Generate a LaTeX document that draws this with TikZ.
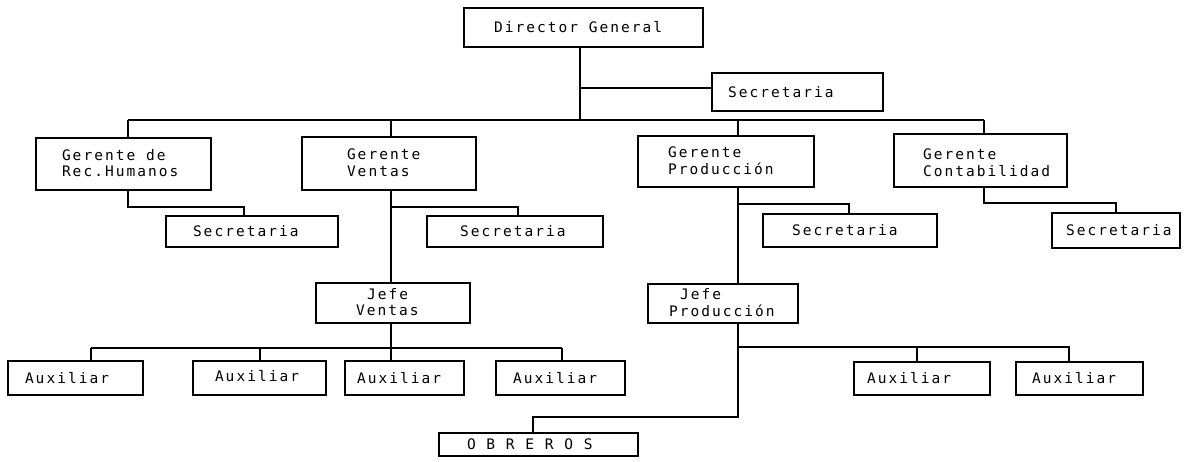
\documentclass[tikz,border=0pt]{standalone}
\usepackage{fontspec}
\newfontfamily\tfont[LetterSpace=14]{DejaVu Sans Mono}
\begin{document}
\begin{tikzpicture}[x=1pt,y=-1pt,
  box/.style={draw=black,line width=1.1pt,inner sep=0pt,outer sep=0pt,fill=none},
  txt/.style={inner sep=0pt,outer sep=0pt,anchor=west,align=left,font={\tfont\fontsize{14.5}{16.5}\selectfont}},
  conn/.style={draw=black,line width=1.2pt}]
\useasboundingbox[fill=white] (0,0) rectangle (1185,461);
% boxes
\node[box,minimum width=239pt,minimum height=39pt] (DG) at (583.5,27.5) {};
\node[box,minimum width=171pt,minimum height=38pt] (ST) at (797.5,92) {};
\node[box,minimum width=175pt,minimum height=52pt] (RH) at (123.5,164) {};
\node[box,minimum width=174pt,minimum height=53pt] (GV) at (389,163.5) {};
\node[box,minimum width=176pt,minimum height=51pt] (GP) at (726,161.5) {};
\node[box,minimum width=173pt,minimum height=53pt] (GC) at (980.5,160.5) {};
\node[box,minimum width=172pt,minimum height=31pt] (SRH) at (252,231.5) {};
\node[box,minimum width=176pt,minimum height=31pt] (SV) at (515,231.5) {};
\node[box,minimum width=174pt,minimum height=33pt] (SP) at (850,230.5) {};
\node[box,minimum width=128pt,minimum height=35pt] (SC) at (1116,230.5) {};
\node[box,minimum width=154pt,minimum height=40pt] (JV) at (393,303) {};
\node[box,minimum width=150pt,minimum height=39pt] (JP) at (723,303.5) {};
\node[box,minimum width=135pt,minimum height=34pt] (A1) at (75.5,378) {};
\node[box,minimum width=133pt,minimum height=34pt] (A2) at (259.5,378) {};
\node[box,minimum width=119pt,minimum height=34pt] (A3) at (404.5,378) {};
\node[box,minimum width=129pt,minimum height=34pt] (A4) at (560.5,378) {};
\node[box,minimum width=136pt,minimum height=33pt] (A5) at (922,378.5) {};
\node[box,minimum width=127pt,minimum height=33pt] (A6) at (1079.5,378.5) {};
\node[box,minimum width=199pt,minimum height=23pt] (OB) at (538.5,444.5) {};
% texts
\node[txt] (tDG) at ([xshift=30pt]DG.west) {Director General};
\node[txt] (tST) at ([xshift=16pt]ST.west) {Secretaria};
\node[txt] (tRH) at ([xshift=26pt,yshift=1pt]RH.west) {Gerente de\\Rec.Humanos};
\node[txt] (tGV) at ([xshift=45pt,yshift=1pt]GV.west) {Gerente\\Ventas};
\node[txt] (tGP) at ([xshift=30pt,yshift=1pt]GP.west) {Gerente\\Producción};
\node[txt] (tGC) at ([xshift=29pt,yshift=-2pt]GC.west) {Gerente\\Contabilidad};
\node[txt] (tSRH) at ([xshift=27pt]SRH.west) {Secretaria};
\node[txt] (tSV) at ([xshift=33pt]SV.west) {Secretaria};
\node[txt] (tSP) at ([xshift=29pt]SP.west) {Secretaria};
\node[txt] (tSC) at ([xshift=14pt]SC.west) {Secretaria};
\node[txt] (tJV) at ([xshift=40pt,yshift=1pt]JV.west) {\hspace*{11pt}Jefe\\Ventas};
\node[txt] (tJP) at ([xshift=21pt,yshift=1pt]JP.west) {\hspace*{11pt}Jefe\\Producción};
\node[txt] (tA1) at ([xshift=17pt]A1.west) {Auxiliar};
\node[txt] (tA2) at ([xshift=22pt,yshift=2pt]A2.west) {Auxiliar};
\node[txt] (tA3) at ([xshift=12pt]A3.west) {Auxiliar};
\node[txt] (tA4) at ([xshift=17pt]A4.west) {Auxiliar};
\node[txt] (tA5) at ([xshift=13pt]A5.west) {Auxiliar};
\node[txt] (tA6) at ([xshift=16pt]A6.west) {Auxiliar};
\node[txt] (tOB) at ([xshift=28pt]OB.west) {O B R E R O S};
% coordinates
\coordinate (dgX) at (580,0);
\coordinate (stY) at (0,88);
\coordinate (busL) at (128,120);
\coordinate (busR) at (984,120);
\coordinate (vX) at (391,0);
\coordinate (pX) at (738,0);
\coordinate (rhK) at (244,207);
\coordinate (vK) at (518,207);
\coordinate (pK) at (849,204);
\coordinate (cK) at (1116,203);
\coordinate (jvB) at (91,348);
\coordinate (jvE) at (562,348);
\coordinate (jpE) at (1069,347);
\coordinate (a5X) at (917,0);
\coordinate (obK) at (533,417);
\coordinate (a2X) at (260,0);
% connectors
\draw[conn] (dgX |- DG.south) -- (dgX |- busL);
\draw[conn] (dgX |- stY) -- (ST.west |- stY);
\draw[conn] (busL) -- (busR);
\draw[conn] (busL) -- (busL |- RH.north);
\draw[conn] (vX |- busL) -- (vX |- GV.north);
\draw[conn] (pX |- busL) -- (pX |- GP.north);
\draw[conn] (busR) -- (busR |- GC.north);
\draw[conn] (busL |- RH.south) |- (rhK) -- (rhK |- SRH.north);
\draw[conn] (vX |- GV.south) -- (vX |- JV.north);
\draw[conn] (vX |- vK) -- (vK) -- (vK |- SV.north);
\draw[conn] (pX |- GP.south) -- (pX |- JP.north);
\draw[conn] (pX |- pK) -- (pK) -- (pK |- SP.north);
\draw[conn] (busR |- GC.south) |- (cK) -- (cK |- SC.north);
\draw[conn] (vX |- JV.south) -- (vX |- jvB);
\draw[conn] (jvB) -- (jvE);
\draw[conn] (jvB) -- (jvB |- A1.north);
\draw[conn] (a2X |- jvB) -- (a2X |- A2.north);
\draw[conn] (vX |- jvB) -- (vX |- A3.north);
\draw[conn] (jvE) -- (jvE |- A4.north);
\draw[conn] (pX |- JP.south) -- (pX |- obK) -- (obK) -- (obK |- OB.north);
\draw[conn] (pX |- jpE) -- (jpE) -- (jpE |- A6.north);
\draw[conn] (a5X |- jpE) -- (a5X |- A5.north);
\end{tikzpicture}
\end{document}
